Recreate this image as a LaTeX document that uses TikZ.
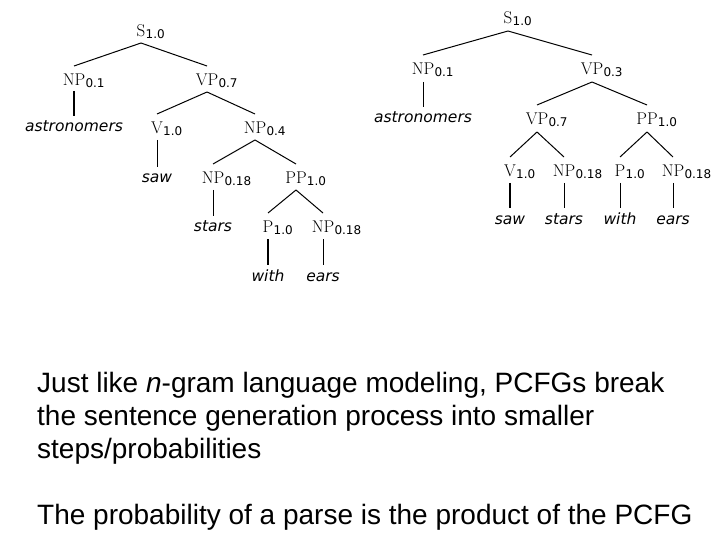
\documentclass[tikz,border=0pt]{standalone}
\usepackage{fontspec}
\newfontfamily\arialf{Liberation Sans}
\newfontfamily\dvs{DejaVu Sans}
\newfontfamily\dvsi{DejaVu Sans Oblique}
\newcommand\pcsub[1]{\rlap{\raisebox{-2pt}{\hspace{0.3pt}\dvs\fontsize{12}{12}\selectfont #1}}}
\tikzset{
  lab/.style={font=\fontsize{17}{17}\selectfont, inner sep=0pt, anchor=base},
  word/.style={font=\dvsi\fontsize{15.5}{15.5}\selectfont, inner sep=0pt, anchor=base},
  edge/.style={line width=1pt, black},
  thickedge/.style={line width=2.2pt, black},
  body/.style={font=\arialf\fontsize{28}{33}\selectfont, inner sep=0pt, anchor=base west}
}
\begin{document}
\begin{tikzpicture}[x=1pt,y=-1pt]
\useasboundingbox (0,0) rectangle (720,540);
% ---------- left tree ----------
\node[lab] (S1) at (141,37) {S\pcsub{1.0}};
\node[lab] (NPa) at (74,86) {NP\pcsub{0.1}};
\node[lab] (VPa) at (207,86) {VP\pcsub{0.7}};
\node[word] (astroA) at (74,132) {astronomers};
\node[lab] (Va) at (157,134) {V\pcsub{1.0}};
\node[lab] (NPfour) at (255,134) {NP\pcsub{0.4}};
\node[word] (sawA) at (157,183) {saw};
\node[lab] (NPsa) at (213,184) {NP\pcsub{0.18}};
\node[lab] (PPa) at (296,184) {PP\pcsub{1.0}};
\node[word] (starsA) at (213,232) {stars};
\node[lab] (Pa) at (268,233) {P\pcsub{1.0}};
\node[lab] (NPea) at (323,233) {NP\pcsub{0.18}};
\node[word] (withA) at (268,281) {with};
\node[word] (earsA) at (323,281) {ears};
\draw[edge] ([yshift=-6pt]S1.base) -- ([yshift=20pt]NPa.base);
\draw[edge] ([yshift=-6pt]S1.base) -- ([yshift=20pt]VPa.base);
\draw[thickedge] ([yshift=-5pt]NPa.base) -- ([yshift=16pt]astroA.base);
\draw[edge] ([yshift=-6pt]VPa.base) -- ([yshift=20pt]Va.base);
\draw[edge] ([yshift=-6pt]VPa.base) -- ([yshift=20pt]NPfour.base);
\draw[edge] ([yshift=-6pt]Va.base) -- ([yshift=16pt]sawA.base);
\draw[edge] ([yshift=-6pt]NPfour.base) -- ([yshift=20pt]NPsa.base);
\draw[edge] ([yshift=-6pt]NPfour.base) -- ([yshift=20pt]PPa.base);
\draw[edge] ([yshift=-6pt]NPsa.base) -- ([yshift=16pt]starsA.base);
\draw[edge] ([yshift=-6pt]PPa.base) -- ([yshift=20pt]Pa.base);
\draw[edge] ([yshift=-6pt]PPa.base) -- ([yshift=20pt]NPea.base);
\draw[thickedge] ([yshift=-6pt]Pa.base) -- ([yshift=16pt]withA.base);
\draw[edge] ([yshift=-6pt]NPea.base) -- ([yshift=16pt]earsA.base);
% ---------- right tree ----------
\node[lab] (S2) at (508,24) {S\pcsub{1.0}};
\node[lab] (NPb) at (423,75) {NP\pcsub{0.1}};
\node[lab] (VPthree) at (592,75) {VP\pcsub{0.3}};
\node[word] (astroB) at (423,123) {astronomers};
\node[lab] (VPseven) at (537,125) {VP\pcsub{0.7}};
\node[lab] (PPb) at (647,125) {PP\pcsub{1.0}};
\node[lab] (Vb) at (510,177) {V\pcsub{1.0}};
\node[lab] (NPsb) at (564,177) {NP\pcsub{0.18}};
\node[lab] (Pb) at (620,177) {P\pcsub{1.0}};
\node[lab] (NPeb) at (673,177) {NP\pcsub{0.18}};
\node[word] (sawB) at (510,225) {saw};
\node[word] (starsB) at (564,225) {stars};
\node[word] (withB) at (620,225) {with};
\node[word] (earsB) at (673,225) {ears};
\draw[edge] ([yshift=-7pt]S2.base) -- ([yshift=20pt]NPb.base);
\draw[edge] ([yshift=-7pt]S2.base) -- ([yshift=20pt]VPthree.base);
\draw[edge] ([yshift=-7pt]NPb.base) -- ([yshift=16pt]astroB.base);
\draw[edge] ([yshift=-7pt]VPthree.base) -- ([yshift=20pt]VPseven.base);
\draw[edge] ([yshift=-7pt]VPthree.base) -- ([yshift=20pt]PPb.base);
\draw[edge] ([yshift=-7pt]VPseven.base) -- ([yshift=20pt]Vb.base);
\draw[edge] ([yshift=-7pt]VPseven.base) -- ([yshift=20pt]NPsb.base);
\draw[edge] ([yshift=-7pt]PPb.base) -- ([yshift=20pt]Pb.base);
\draw[edge] ([yshift=-7pt]PPb.base) -- ([yshift=20pt]NPeb.base);
\draw[thickedge] ([yshift=-6pt]Vb.base) -- ([yshift=17pt]sawB.base);
\draw[edge] ([yshift=-6pt]NPsb.base) -- ([yshift=17pt]starsB.base);
\draw[edge] ([yshift=-6pt]Pb.base) -- ([yshift=17pt]withB.base);
\draw[edge] ([yshift=-6pt]NPeb.base) -- ([yshift=17pt]earsB.base);
% ---------- text ----------
\node[body] (t1) at (37,392) {Just like {\itshape n}-gram language modeling, PCFGs break};
\node[body] (t2) at (37,425) {the sentence generation process into smaller};
\node[body] (t3) at (37,458) {steps/probabilities};
\node[body] (t4) at (37,524) {The probability of a parse is the product of the PCFG};
\end{tikzpicture}
\end{document}
